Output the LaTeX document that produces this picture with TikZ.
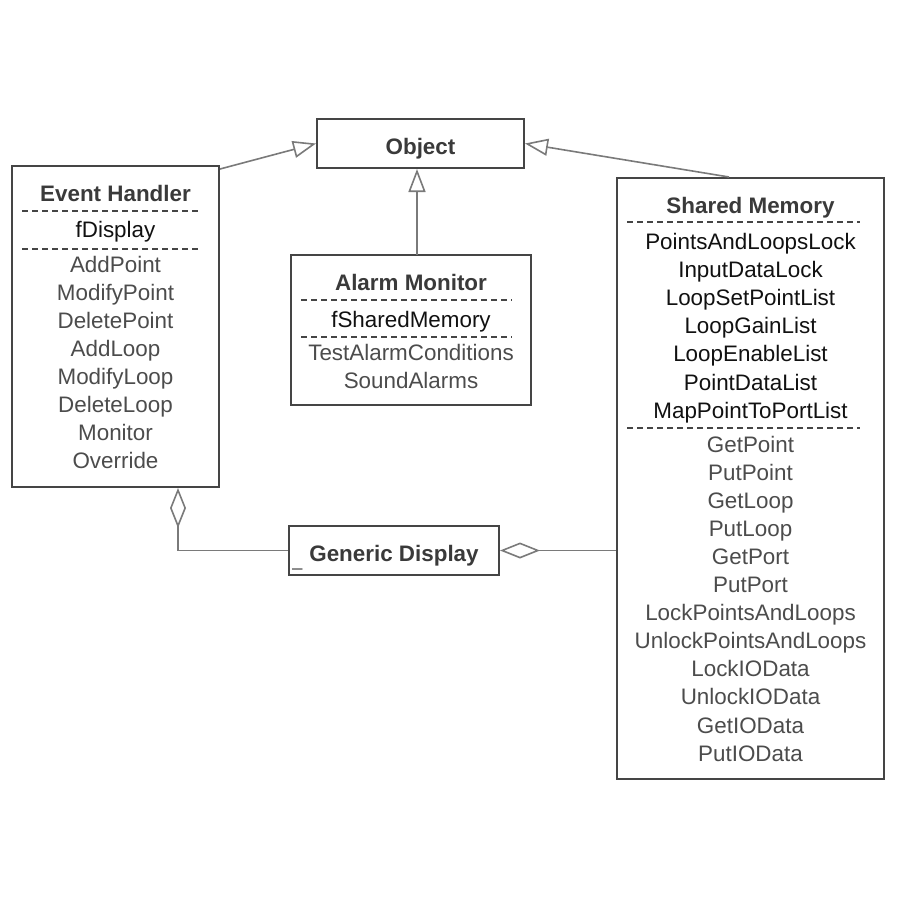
\documentclass[tikz,border=0pt]{standalone}
\usepackage{fontspec}
\setmainfont{Liberation Sans}
\usetikzlibrary{arrows.meta}
\definecolor{boxc}{HTML}{454545}
\definecolor{linec}{HTML}{7A7A7A}
\definecolor{titlec}{HTML}{3A3A3A}
\definecolor{attrc}{HTML}{111111}
\definecolor{methc}{HTML}{4C4C4C}
\tikzset{
  umlbox/.style={draw=boxc, line width=1pt, fill=white, inner sep=0pt},
  txt/.style={inner sep=0pt, text height=8pt, text depth=0pt, font=\fontsize{11.2}{13}\selectfont},
  ttl/.style={txt, font=\fontsize{11.2}{13}\selectfont\bfseries, text=titlec},
  attr/.style={txt, text=attrc},
  meth/.style={txt, text=methc},
  sep/.style={draw=boxc, line width=0.75pt, dash pattern=on 3pt off 2pt},
  conn/.style={draw=linec, line width=0.8pt},
  inherit/.style={conn, -{Triangle[open, length=11.5pt, width=8.5pt]}},
  aggr/.style={conn, {Diamond[open, length=20pt, width=8pt]}-},
}
\begin{document}
\begin{tikzpicture}[x=0.5pt, y=-0.5pt]
\useasboundingbox[fill=white] (0,0) rectangle (900,900);

% boxes
\node[umlbox, minimum width=103.5pt, minimum height=24.5pt] (obj) at (420.5,143.5) {};
\node[umlbox, minimum width=103.5pt, minimum height=160.5pt] (eh) at (115.5,326.5) {};
\node[umlbox, minimum width=120pt, minimum height=75pt] (am) at (411,330) {};
\node[umlbox, minimum width=133.5pt, minimum height=300.5pt] (sm) at (750.5,478.5) {};
\node[umlbox, minimum width=105pt, minimum height=24.5pt] (gd) at (394,550.5) {};

% Object
\node[ttl] (objt) at (420.5,146) {Object};

% Event Handler
\node[ttl] (eht) at (115.5,193) {Event Handler};
\draw[sep] (22,211) -- (200,211);
\node[attr] (eha) at (115.5,229) {fDisplay};
\draw[sep] (22,249) -- (200,249);
\foreach \t [count=\i from 0] in {AddPoint,ModifyPoint,DeletePoint,AddLoop,ModifyLoop,DeleteLoop,Monitor,Override}
  \node[meth] (ehm\i) at (115.5,264+28*\i) {\t};

% Alarm Monitor
\node[ttl] (amt) at (411,282) {Alarm Monitor};
\draw[sep] (301,300) -- (512,300);
\node[attr] (ama) at (411,319) {fSharedMemory};
\draw[sep] (301,337) -- (512,337);
\node[meth] (amm0) at (411,352) {TestAlarmConditions};
\node[meth] (amm1) at (411,380) {SoundAlarms};

% Shared Memory
\node[ttl] (smt) at (750.5,205) {Shared Memory};
\draw[sep] (627,222) -- (860,222);
\foreach \t [count=\i from 0] in {PointsAndLoopsLock,InputDataLock,LoopSetPointList,LoopGainList,LoopEnableList,PointDataList,MapPointToPortList}
  \node[attr] (sma\i) at (750.5,241+28.2*\i) {\t};
\draw[sep] (627,428) -- (860,428);
\foreach \t [count=\i from 0] in {GetPoint,PutPoint,GetLoop,PutLoop,GetPort,PutPort,LockPointsAndLoops,UnlockPointsAndLoops,LockIOData,UnlockIOData,GetIOData,PutIOData}
  \node[meth] (smm\i) at (750.5,444+28.1*\i) {\t};

% Generic Display
\node[ttl] (gdt) at (394,553) {Generic Display};
\node[inner sep=0pt, anchor=base west, text=titlec, font=\fontsize{9}{10}\selectfont] (gdu) at (292,566) {\_};

% connectors
\coordinate (ehc) at ([yshift=-2pt]eh.north east);
\draw[inherit] (ehc) -- (obj.west);
\coordinate (smc) at ([xshift=56.5pt]sm.north west);
\draw[inherit] (smc) -- (obj.east);
\coordinate (amc) at (417,255);
\draw[inherit] (amc) -- (amc |- obj.south);
\coordinate (ehb) at ([xshift=83.5pt]eh.south west);
\draw[aggr] (ehb) |- (gd.west);
\draw[aggr] (gd.east) -- (gd.east -| sm.west);
\end{tikzpicture}
\end{document}
